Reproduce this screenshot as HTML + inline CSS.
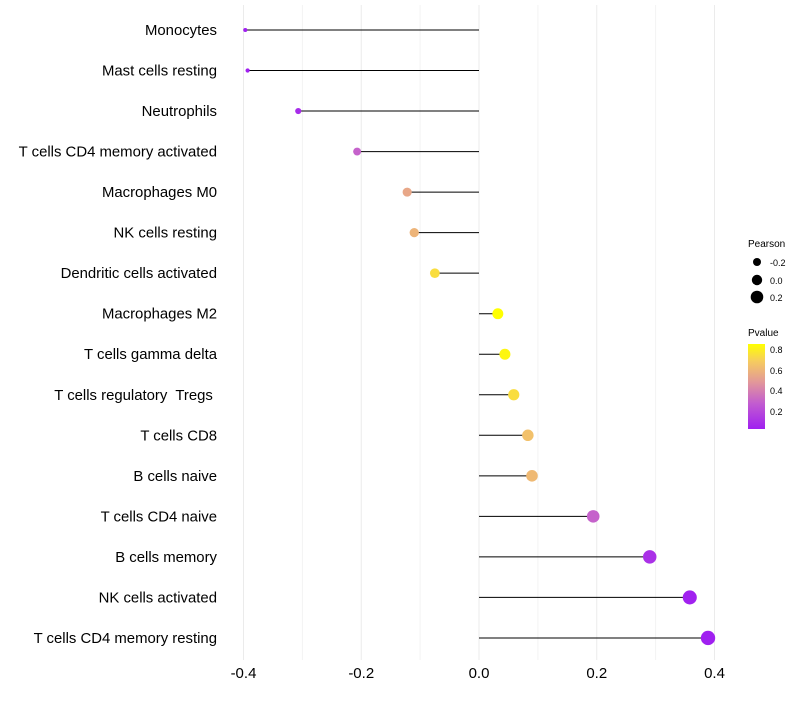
<!DOCTYPE html>
<html><head><meta charset="utf-8"><style>
body{margin:0;background:#fff;font-family:"Liberation Sans",sans-serif}
text{white-space:pre}
</style></head><body>
<svg id="c" width="800" height="700" xmlns="http://www.w3.org/2000/svg">
<defs><linearGradient id="pg" x1="0" y1="1" x2="0" y2="0">
<stop offset="0" stop-color="#a020f0"/><stop offset="0.3" stop-color="#c25cd0"/><stop offset="0.55" stop-color="#e2979a"/><stop offset="0.8" stop-color="#f6cc5e"/><stop offset="1" stop-color="#ffff00"/></linearGradient></defs>
<g id="grid"></g><g id="marks"></g><g id="labels"></g>
<g>
<text x="748" y="247" font-size="10">Pearson</text>
<circle cx="757" cy="262" r="4"/><text x="770" y="266" font-size="9">-0.2</text>
<circle cx="757" cy="280" r="5.2"/><text x="770" y="284" font-size="9">0.0</text>
<circle cx="757" cy="297" r="6.3"/><text x="770" y="301" font-size="9">0.2</text>
<text x="748" y="336" font-size="10">Pvalue</text>
<rect x="748" y="344" width="17" height="85" fill="url(#pg)"/>
<text x="770" y="353" font-size="9">0.8</text><text x="770" y="374" font-size="9">0.6</text>
<text x="770" y="394" font-size="9">0.4</text><text x="770" y="415" font-size="9">0.2</text>
</g>
</svg>
<script>
const cells=["Monocytes","Mast cells resting","Neutrophils","T cells CD4 memory activated","Macrophages M0","NK cells resting","Dendritic cells activated","Macrophages M2","T cells gamma delta","T cells regulatory  Tregs ","T cells CD8","B cells naive","T cells CD4 naive","B cells memory","NK cells activated","T cells CD4 memory resting"];
const pearson=[-0.397,-0.393,-0.307,-0.207,-0.122,-0.110,-0.075,0.032,0.044,0.059,0.083,0.090,0.194,0.290,0.358,0.389];
const pvalue=[0.03,0.03,0.08,0.3,0.55,0.6,0.75,0.86,0.83,0.75,0.65,0.62,0.3,0.1,0.04,0.03];
const xTicks=[-0.4,-0.2,0.0,0.2,0.4];
const xTickLabels=["-0.4","-0.2","0.0","0.2","0.4"];
const NS="http://www.w3.org/2000/svg";
const X=v=>479+v*588.75, Y=i=>30+i*40.53;
const R=v=>Math.sqrt(4+60*(v+0.4));
const stops=[[0,[160,32,240]],[0.3,[194,92,208]],[0.55,[226,151,154]],[0.8,[246,204,94]],[1,[255,255,0]]];
function col(p){let t=(p-0.03)/(0.86-0.03);t=Math.max(0,Math.min(1,t));
for(let k=1;k<stops.length;k++){if(t<=stops[k][0]){const a=stops[k-1],b=stops[k],f=(t-a[0])/(b[0]-a[0]);
return "rgb("+a[1].map((c,j)=>Math.round(c+(b[1][j]-c)*f)).join(",")+")";}}return "rgb(255,255,0)";}
function mk(tag,at,par){const e=document.createElementNS(NS,tag);for(const k in at)e.setAttribute(k,at[k]);document.getElementById(par).appendChild(e);return e;}
for(let k=0;k<=8;k++){const v=-0.4+k*0.1;const g=mk("line",{x1:X(v),x2:X(v),y1:5,y2:660,stroke:k%2?"#f3f3f3":"#ebebeb","stroke-width":1},"grid");

}
xTicks.forEach((t,i)=>{const e=mk("text",{x:X(t),y:678,"font-size":15,"text-anchor":"middle"},"labels");e.textContent=xTickLabels[i];

});
cells.forEach((c,i)=>{
const l=mk("text",{x:217,y:Y(i)+5,"font-size":14.9,"text-anchor":"end"},"labels");l.textContent=c;


const s=mk("line",{x1:X(0),x2:X(pearson[i]),y1:Y(i),y2:Y(i),stroke:"#000","stroke-width":1},"marks");


const d=mk("circle",{cx:X(pearson[i]),cy:Y(i),r:R(pearson[i]),fill:col(pvalue[i])},"marks");


});
</script>
</body></html>
